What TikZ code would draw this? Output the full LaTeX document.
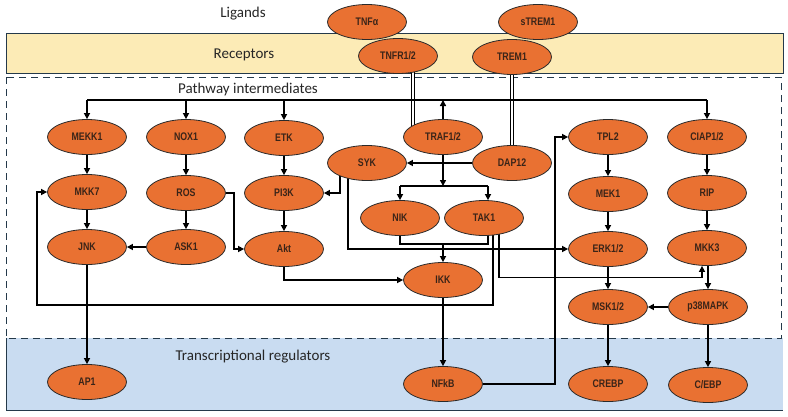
\documentclass[tikz,border=0pt]{standalone}
\usepackage{fontspec}
\setmainfont{Carlito}
\newfontfamily\protfont[FakeStretch=0.8]{Liberation Sans}
\usetikzlibrary{shapes.geometric,arrows.meta}
\definecolor{protfill}{HTML}{E97132}
\definecolor{protline}{HTML}{2A2A2A}
\definecolor{prottext}{HTML}{3A2418}
\definecolor{recband}{HTML}{FCEBB6}
\definecolor{trband}{HTML}{C9DCF1}
\definecolor{bandline}{HTML}{24394A}
\pgfdeclarelayer{bands}
\pgfdeclarelayer{lines}
\pgfsetlayers{bands,lines,main}
\tikzset{
  prot/.style={ellipse, draw=protline, line width=0.8pt, fill=protfill,
    minimum width=79pt, minimum height=35pt, inner sep=0pt, text=prottext,
    font=\protfont\bfseries\fontsize{11}{11}\selectfont},
  arr/.style={line width=1.6pt, -{Triangle[length=6pt,width=6pt]}},
  link/.style={line width=1.6pt},
  dbl/.style={double=white, double distance=1.6pt, line width=0.9pt},
  lbl/.style={font=\fontsize{15}{15}\selectfont, text=black!85},
}
\begin{document}
\begin{tikzpicture}[x=1pt, y=-1pt]
	\useasboundingbox (0,0) rectangle (788,416);
	% bands
	\begin{pgfonlayer}{bands}
		\fill[white] (0,0) rectangle (788,416);
		\draw[fill=recband, draw=bandline, line width=0.6pt] (6,33) rectangle (783,73);
		\fill[trband] (6,338) rectangle (783,410);
		\draw[bandline, line width=0.8pt] (6,338) -- (6,410) -- (783,410);
		\draw[bandline, line width=1pt, dash pattern=on 7pt off 5pt] (6,77) rectangle (781,338);
	\end{pgfonlayer}
	\node[lbl] (ligands)    at (243,14)  {Ligands};
	\node[lbl] (receptors)  at (244,55)  {Receptors};
	\node[lbl] (pathway)    at (248,89)  {Pathway intermediates};
	\node[lbl] (regulators) at (253,357) {Transcriptional regulators};
	% ligands and receptors
	\node[prot] (tnfa)  at (367,22)  {TNFα};
	\node[prot] (strem) at (538,22)  {sTREM1};
	\node[prot] (tnfr)  at (398,56)  {TNFR1/2};
	\node[prot] (trem)  at (512,57)  {TREM1};
	% intermediates
	\node[prot] (mekk)  at (87,137)  {MEKK1};
	\node[prot] (nox)   at (186,137) {NOX1};
	\node[prot] (etk)   at (284,138) {ETK};
	\node[prot] (traf)  at (443,137) {TRAF1/2};
	\node[prot] (tpl)   at (608,137) {TPL2};
	\node[prot] (ciap)  at (707,137) {CIAP1/2};
	\node[prot] (syk)   at (367,163) {SYK};
	\node[prot] (dap)   at (512,163) {DAP12};
	\node[prot] (mkk7)  at (87,192)  {MKK7};
	\node[prot] (ros)   at (186,193) {ROS};
	\node[prot] (pik)   at (284,193) {PI3K};
	\node[prot] (mek)   at (608,194) {MEK1};
	\node[prot] (rip)   at (707,193) {RIP};
	\node[prot] (nik)   at (400,218) {NIK};
	\node[prot] (tak)   at (484,218) {TAK1};
	\node[prot] (jnk)   at (87,247)  {JNK};
	\node[prot] (ask)   at (186,247) {ASK1};
	\node[prot] (akt)   at (284,249) {Akt};
	\node[prot] (erk)   at (608,249) {ERK1/2};
	\node[prot] (mkk3)  at (707,248) {MKK3};
	\node[prot] (ikk)   at (443,280) {IKK};
	\node[prot] (msk)   at (608,307) {MSK1/2};
	\node[prot] (pmapk) at (708,307) {p38MAPK};
	% regulators
	\node[prot] (ap)    at (87,382)  {AP1};
	\node[prot] (nfkb)  at (443,384) {NFkB};
	\node[prot] (crebp) at (608,384) {CREBP};
	\node[prot] (cebp)  at (708,385) {C/EBP};
	% connectors
	\begin{pgfonlayer}{lines}
		\draw[dbl] ([xshift=15pt]tnfr.center) -- ([xshift=-30pt]traf.center);
		\draw[dbl] (trem.center) -- (dap.center);
		% top bar
		\coordinate (barL) at (87,100);
		\coordinate (barR) at (707,100);
		\draw[link] (barL) -- (barR);
		\draw[arr] (traf) -- (traf |- barL);
		\foreach \n in {mekk,nox,etk,ciap}
			\draw[arr] (\n |- barL) -- (\n);
		% straight steps
		\foreach \a/\b in {mekk/mkk7, mkk7/jnk, nox/ros, ros/ask, etk/pik, pik/akt,
				tpl/mek, mek/erk, ciap/rip, rip/mkk3, erk/msk, msk/crebp, pmapk/cebp,
				ikk/nfkb, jnk/ap, ask/jnk, pmapk/msk, dap/syk}
			\draw[arr] (\a) -- (\b);
		\draw[arr] (ros.east) -- ++(8,0) |- (akt.west);
		\draw[arr] ([xshift=-27pt]syk.center) |- (pik.east);
		\draw[arr] ([xshift=-19pt]syk.center) |- (erk.west);
		\draw[arr] (akt) |- (ikk.west);
		% TRAF1/2 to NIK and TAK1
		\coordinate (split) at (443,186);
		\coordinate (takin) at ([xshift=4pt]tak.center);
		\draw[arr] (traf) -- (split);
		\draw[link] (nik |- split) -- (takin |- split);
		\draw[arr] (nik |- split) -- (nik);
		\draw[arr] (takin |- split) -- (takin |- tak.north);
		% NIK and TAK1 to IKK
		\coordinate (join) at (443,244);
		\draw[link] (nik) |- (takin |- join) -- (takin);
		\draw[arr] (join) -- (ikk);
		% TAK1 back to MKK7
		\coordinate (loop) at (37,305);
		\draw[arr] ([xshift=9pt]tak.center) |- (loop) |- (mkk7.west);
		% TAK1 to MKK3, MKK3 to p38MAPK
		\coordinate (mkkin) at ([xshift=-5pt]mkk3.south);
		\draw[arr] ([xshift=15pt]tak.center) |- ([yshift=-11.5pt]mkkin) -- (mkkin);
		\draw[arr] ([xshift=1pt]mkk3.south) -- (pmapk);
		% NFkB to TPL2
		\coordinate (riser) at (555,260);
		\draw[arr] (nfkb) -| (riser) |- (tpl);
	\end{pgfonlayer}
\end{tikzpicture}
\end{document}
